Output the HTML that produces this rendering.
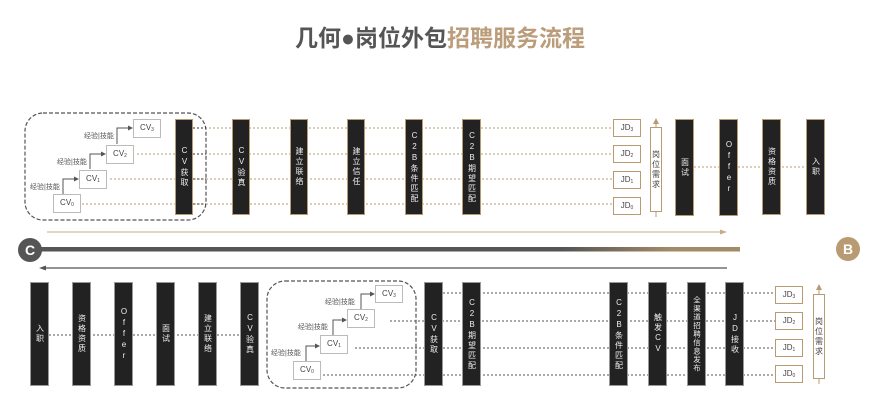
<!DOCTYPE html>
<html><head><meta charset="utf-8"><style>
html,body{margin:0;padding:0;background:#fff;}
#c{position:relative;width:880px;height:418px;overflow:hidden;font-family:"Liberation Sans","Noto Sans CJK SC",sans-serif;}
.t{position:absolute;top:19px;left:0;width:880px;text-align:center;font-size:23px;font-weight:bold;font-family:"Liberation Sans","Noto Sans CJK SC",sans-serif;color:#555;letter-spacing:0px}
.t span{color:#bb9d7b}
.b{position:absolute;background:#222;box-sizing:border-box;border:1.5px solid #b89b72;display:flex;align-items:center;justify-content:center;}
.g{border-color:#999;}
.b span{writing-mode:vertical-rl;text-orientation:upright;color:#eee;font-size:8px;letter-spacing:2px;line-height:8px;}
.jd{position:absolute;width:28px;height:18px;box-sizing:border-box;border:1.5px solid #b89b72;background:#fff;font-size:8px;color:#444;text-align:center;line-height:15px;}
.cv{position:absolute;width:28px;height:19px;box-sizing:border-box;border:1.5px solid #bbb;background:#fff;font-size:8px;color:#444;text-align:center;line-height:16px;}
sub{font-size:5px;vertical-align:-1px}
.lb{position:absolute;font-size:7px;color:#555;white-space:nowrap}
.req{position:absolute;width:12px;box-sizing:border-box;border:1.5px solid #b89b72;background:#fff;display:flex;align-items:center;justify-content:center}
.req span{display:block;font-size:8px;color:#444;line-height:10px;text-align:center;width:9px}
svg{position:absolute;left:0;top:0}
</style></head><body><div id="c">
<div class="t">几何●岗位外包<span>招聘服务流程</span></div>
<svg width="880" height="418">
<defs>
<linearGradient id="gr" x1="0" x2="1"><stop offset="0" stop-color="#555"/><stop offset="0.75" stop-color="#555"/><stop offset="0.9" stop-color="#a38a68"/><stop offset="1" stop-color="#a38a68"/></linearGradient>
</defs>
<rect x="25" y="113" width="181" height="107" rx="18" fill="none" stroke="#555" stroke-width="1.2" stroke-dasharray="4,2"/>
<g stroke="#b89b72" stroke-width="1" stroke-dasharray="2,2" fill="none">
<line x1="193" y1="128" x2="613" y2="128"/>
<line x1="137" y1="154" x2="613" y2="154"/>
<line x1="110" y1="179" x2="613" y2="179"/>
<line x1="82" y1="204" x2="613" y2="204"/>
<line x1="694" y1="167" x2="806" y2="167"/>
</g>
<g stroke="#333" stroke-width="1" stroke-dasharray="2,2"><line x1="193" y1="128" x2="206" y2="128"/><line x1="193" y1="154" x2="206" y2="154"/><line x1="193" y1="179" x2="206" y2="179"/><line x1="193" y1="204" x2="206" y2="204"/></g>
<g stroke="#555" stroke-width="1" fill="none">
<polyline points="63,194 63,179 76,179"/><polyline points="90,169 90,154 103,154"/><polyline points="117,144 117,128 130,128"/>
</g>
<g fill="#555"><polygon points="79,179 74,176.5 74,181.5"/><polygon points="106,154 101,151.5 101,156.5"/><polygon points="133,128 128,125.5 128,130.5"/></g>
<rect x="267" y="281" width="149" height="107" rx="18" fill="none" stroke="#555" stroke-width="1.2" stroke-dasharray="4,2"/>
<g stroke="#555" stroke-width="1" stroke-dasharray="2,2">
<line x1="443" y1="293" x2="775" y2="293"/>
<line x1="390" y1="321" x2="775" y2="321"/>
<line x1="355" y1="348" x2="775" y2="348"/>
<line x1="323" y1="375" x2="775" y2="375"/>
<line x1="49" y1="335" x2="240" y2="335"/>
</g>
<g stroke="#555" stroke-width="1" fill="none">
<polyline points="306,361 306,346 317,346"/><polyline points="333,335 333,320 344,320"/><polyline points="361,309 361,294 372,294"/>
</g>
<g fill="#555"><polygon points="320,346 315,343.5 315,348.5"/><polygon points="347,320 342,317.5 342,322.5"/><polygon points="375,294 370,291.5 370,296.5"/></g>
<line x1="47" y1="232" x2="722" y2="232" stroke="#c7ab88" stroke-width="1"/>
<polygon points="727,232 720,229.5 720,234.5" fill="#c7ab88"/>
<rect x="35" y="247" width="705" height="4.5" fill="url(#gr)"/>
<line x1="45" y1="268" x2="727" y2="268" stroke="#555" stroke-width="1.2"/>
<polygon points="39,268 46,265.5 46,270.5" fill="#555"/>
<circle cx="30" cy="250" r="12" fill="#555"/>
<text x="30" y="255" fill="#fff" font-size="14" font-weight="bold" text-anchor="middle" font-family="Liberation Sans">C</text>
<circle cx="848" cy="249" r="12" fill="#b89b72"/>
<text x="848" y="254" fill="#fff" font-size="14" font-weight="bold" text-anchor="middle" font-family="Liberation Sans">B</text>
<line x1="656" y1="120" x2="656" y2="217" stroke="#b89b72" stroke-width="1"/>
<polygon points="656,118 653,124 659,124" fill="#b89b72"/>
<line x1="819" y1="286" x2="819" y2="384" stroke="#b89b72" stroke-width="1"/>
<polygon points="819,284 816,290 822,290" fill="#b89b72"/>
</svg>
<div class="cv" style="left:53px;top:194px">CV<sub>0</sub></div>
<div class="cv" style="left:79px;top:170px">CV<sub>1</sub></div>
<div class="cv" style="left:106px;top:145px">CV<sub>2</sub></div>
<div class="cv" style="left:133px;top:119px">CV<sub>3</sub></div>
<div class="lb" style="left:30px;top:182px">经验|技能</div>
<div class="lb" style="left:57px;top:157px">经验|技能</div>
<div class="lb" style="left:84px;top:131px">经验|技能</div>
<div class="b" style="left:175px;top:119px;width:18px;height:96px"><span>CV获取</span></div>
<div class="b" style="left:232px;top:119px;width:18px;height:96px"><span>CV验真</span></div>
<div class="b" style="left:290px;top:119px;width:18px;height:96px"><span>建立联络</span></div>
<div class="b" style="left:347px;top:119px;width:18px;height:96px"><span>建立信任</span></div>
<div class="b" style="left:405px;top:119px;width:18px;height:96px"><span>C2B条件匹配</span></div>
<div class="b" style="left:462px;top:119px;width:19px;height:96px"><span>C2B期望匹配</span></div>
<div class="jd" style="left:613px;top:119px">JD<sub>3</sub></div>
<div class="jd" style="left:613px;top:145px">JD<sub>2</sub></div>
<div class="jd" style="left:613px;top:171px">JD<sub>1</sub></div>
<div class="jd" style="left:613px;top:197px">JD<sub>0</sub></div>
<div class="req" style="left:650px;top:127px;height:85px"><span>岗<br>位<br>需<br>求</span></div>
<div class="b" style="left:675px;top:119px;width:19px;height:97px"><span>面试</span></div>
<div class="b" style="left:719px;top:119px;width:19px;height:97px"><span>Offer</span></div>
<div class="b" style="left:762px;top:119px;width:19px;height:96px"><span>资格资质</span></div>
<div class="b" style="left:806px;top:119px;width:19px;height:96px"><span>入职</span></div>
<div class="b g" style="left:30px;top:282px;width:19px;height:104px"><span>入职</span></div>
<div class="b g" style="left:72px;top:282px;width:19px;height:104px"><span>资格资质</span></div>
<div class="b g" style="left:114px;top:282px;width:19px;height:104px"><span>Offer</span></div>
<div class="b g" style="left:156px;top:282px;width:19px;height:104px"><span>面试</span></div>
<div class="b g" style="left:198px;top:282px;width:19px;height:104px"><span>建立联络</span></div>
<div class="b g" style="left:240px;top:282px;width:19px;height:104px"><span>CV验真</span></div>
<div class="cv" style="left:293px;top:361px">CV<sub>0</sub></div>
<div class="cv" style="left:320px;top:335px">CV<sub>1</sub></div>
<div class="cv" style="left:347px;top:309px">CV<sub>2</sub></div>
<div class="cv" style="left:375px;top:285px;height:18px;line-height:15px">CV<sub>3</sub></div>
<div class="lb" style="left:271px;top:348px">经验|技能</div>
<div class="lb" style="left:298px;top:322px">经验|技能</div>
<div class="lb" style="left:325px;top:297px">经验|技能</div>
<div class="b g" style="left:424px;top:282px;width:19px;height:104px"><span>CV获取</span></div>
<div class="b g" style="left:462px;top:282px;width:19px;height:104px"><span>C2B期望匹配</span></div>
<div class="b g" style="left:609px;top:282px;width:19px;height:104px"><span>C2B条件匹配</span></div>
<div class="b g" style="left:648px;top:282px;width:19px;height:104px"><span>触发CV</span></div>
<div class="b g" style="left:687px;top:282px;width:19px;height:104px"><span style="font-size:7.5px;letter-spacing:1px">全渠道招聘信息发布</span></div>
<div class="b g" style="left:725px;top:282px;width:19px;height:104px"><span>JD接收</span></div>
<div class="jd" style="left:775px;top:286px">JD<sub>3</sub></div>
<div class="jd" style="left:775px;top:312px">JD<sub>2</sub></div>
<div class="jd" style="left:775px;top:339px">JD<sub>1</sub></div>
<div class="jd" style="left:775px;top:365px">JD<sub>0</sub></div>
<div class="req" style="left:813px;top:294px;height:85px"><span>岗<br>位<br>需<br>求</span></div>
</div></body></html>
